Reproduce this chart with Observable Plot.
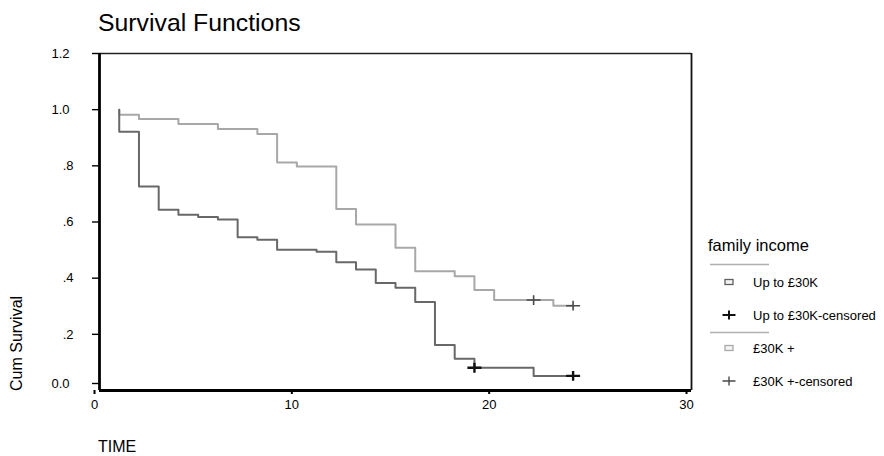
<!DOCTYPE html>
<html>
<head>
<meta charset="utf-8">
<script src="https://cdn.jsdelivr.net/npm/d3@7"></script>
<script src="https://cdn.jsdelivr.net/npm/@observablehq/plot@0.6"></script>
<style>
  html, body { margin: 0; padding: 0; background: #fff; }
  #wrap { position: relative; width: 884px; height: 456px; overflow: hidden; font-family: "Liberation Sans", Arial, sans-serif; }
  #wrap svg { position: absolute; left: 0; top: 0; }
</style>
</head>
<body>
<div id="wrap"></div>
<script>
// ---- data ----
const lowTime  = [1, 1, 2, 3, 4, 5, 6, 7, 8, 9, 11, 12, 13, 14, 15, 16, 17, 18, 19, 22, 24];
const lowSurv  = [1.0, 0.921, 0.726, 0.644, 0.626, 0.618, 0.609, 0.546, 0.537, 0.501, 0.494, 0.457, 0.431, 0.383, 0.366, 0.315, 0.162, 0.113, 0.081, 0.052, 0.052];
const highTime = [1, 1, 2, 4, 6, 8, 9, 10, 12, 13, 15, 16, 18, 19, 20, 23, 24];
const highSurv = [1.0, 0.982, 0.967, 0.949, 0.931, 0.913, 0.812, 0.798, 0.646, 0.591, 0.508, 0.425, 0.407, 0.358, 0.322, 0.302, 0.302];
const lowCensTime  = [19, 24];
const lowCensSurv  = [0.081, 0.052];
const highCensTime = [22, 24];
const highCensSurv = [0.322, 0.302];
const xTicks = [0, 10, 20, 30];
const yTicks = [0, 0.2, 0.4, 0.6, 0.8, 1.0, 1.2];
const yTickLabels = ["0.0", ".2", ".4", ".6", ".8", "1.0", "1.2"];
const titleText = "Survival Functions";
const xLabel = "TIME";
const yLabel = "Cum Survival";
const legendTitle = "family income";
const legendLabels = ["Up to £30K", "Up to £30K-censored", "£30K +", "£30K +-censored"];

// ---- tables built from the arrays ----
const lowData = lowTime.map((t, i) => ({t, s: lowSurv[i]}));
const highData = highTime.map((t, i) => ({t, s: highSurv[i]}));
const lowCens = lowCensTime.map((t, i) => ({t, s: lowCensSurv[i]}));
const highCens = highCensTime.map((t, i) => ({t, s: highCensSurv[i]}));

const plusSymbol = {
  draw(context, size) {
    const r = Math.sqrt(size / Math.PI);
    context.moveTo(-r, 0); context.lineTo(r, 0);
    context.moveTo(0, -r * 0.7); context.lineTo(0, r * 0.7);
  }
};
const yFmt = d => yTickLabels[yTicks.findIndex(v => Math.abs(v - d) < 1e-9)];

const chart = Plot.plot({
  width: 884,
  height: 456,
  marginLeft: 99,
  marginRight: 193,
  marginTop: 53,
  marginBottom: 66,
  x: {domain: [0, 30], label: null},
  y: {domain: [0, 1.2], label: null},
  style: {fontFamily: "'Liberation Sans', Arial, sans-serif", fontSize: "13px", color: "#000", background: "white"},
  marks: [
    Plot.line(highData, {x: "t", y: "s", curve: "step-after", stroke: "#a8a8a8", strokeWidth: 2}),
    Plot.line(lowData, {x: "t", y: "s", curve: "step-after", stroke: "#686868", strokeWidth: 2}),
    Plot.dot(highCens, {x: "t", y: "s", symbol: plusSymbol, r: 7, stroke: "#4a4a4a", strokeWidth: 1.6, fill: "none"}),
    Plot.dot(lowCens, {x: "t", y: "s", symbol: plusSymbol, r: 7, stroke: "#111", strokeWidth: 2.4, fill: "none"}),
    Plot.ruleY([1.2], {stroke: "#222", strokeWidth: 1.3}),
    Plot.ruleX([30], {stroke: "#111", strokeWidth: 1.8}),
    Plot.ruleX([0], {stroke: "#000", strokeWidth: 2.8}),
    Plot.ruleY([0], {stroke: "#000", strokeWidth: 2.8}),
    Plot.axisY(yTicks.filter(d => d >= 1), {tickSize: 7, tickPadding: 23, tickFormat: yFmt, stroke: "#000", strokeWidth: 1.4, fill: "#000", label: null}),
    Plot.axisY(yTicks.filter(d => d > 0 && d < 1), {tickSize: 7, tickPadding: 19, tickFormat: yFmt, stroke: "#000", strokeWidth: 1.4, fill: "#000", label: null}),
    Plot.axisY(yTicks.filter(d => d === 0), {tickSize: 7, tickPadding: 23, tickFormat: yFmt, dy: -7, stroke: "#000", strokeWidth: 1.4, fill: "#000", label: null}),
    Plot.axisX(xTicks, {tickSize: 4, tickPadding: 5, dx: -5, stroke: "#000", strokeWidth: 2, fill: "#000", label: null})
  ]
});
document.getElementById("wrap").appendChild(chart);

// ---- overlay: title, axis titles, legend ----
const ov = d3.select("#wrap").append("svg")
  .attr("width", 884).attr("height", 456)
  .style("font-family", "'Liberation Sans', Arial, sans-serif")
  .style("pointer-events", "none");

ov.append("text").attr("x", 98).attr("y", 31).attr("font-size", 24.8).attr("fill", "#000").text(titleText);
ov.append("text").attr("x", 98).attr("y", 452).attr("font-size", 16).attr("fill", "#000").text(xLabel);
ov.append("text").attr("transform", "translate(22,391) rotate(-90)").attr("font-size", 16).attr("fill", "#000").text(yLabel);

const lg = ov.append("g");
lg.append("text").attr("x", 708).attr("y", 251).attr("font-size", 16.5).attr("fill", "#000").text(legendTitle);
const sepY = [264.5, 332.5];
sepY.forEach(y => lg.append("line").attr("x1", 710).attr("x2", 769).attr("y1", y).attr("y2", y).attr("stroke", "#b0b0b0").attr("stroke-width", 1.5));
const rowY = [282, 315, 348, 381];
const rowStroke = ["#606060", "#111", "#a8a8a8", "#4a4a4a"];
rowY.forEach((y, i) => {
  if (i % 2 === 0) {
    lg.append("rect").attr("x", 725).attr("y", y - 2.5).attr("width", 8).attr("height", 5)
      .attr("fill", "#f4f4f4").attr("stroke", rowStroke[i]).attr("stroke-width", 1.3);
  } else {
    const w = i === 1 ? 2 : 1.4;
    lg.append("path").attr("d", `M${722.5},${y}h13M${729},${y - 4.5}v9`).attr("stroke", rowStroke[i]).attr("stroke-width", w).attr("fill", "none");
  }
  lg.append("text").attr("x", 753).attr("y", y).attr("dy", "0.35em").attr("font-size", 13).attr("fill", "#000").text(legendLabels[i]);
});
</script>
</body>
</html>
